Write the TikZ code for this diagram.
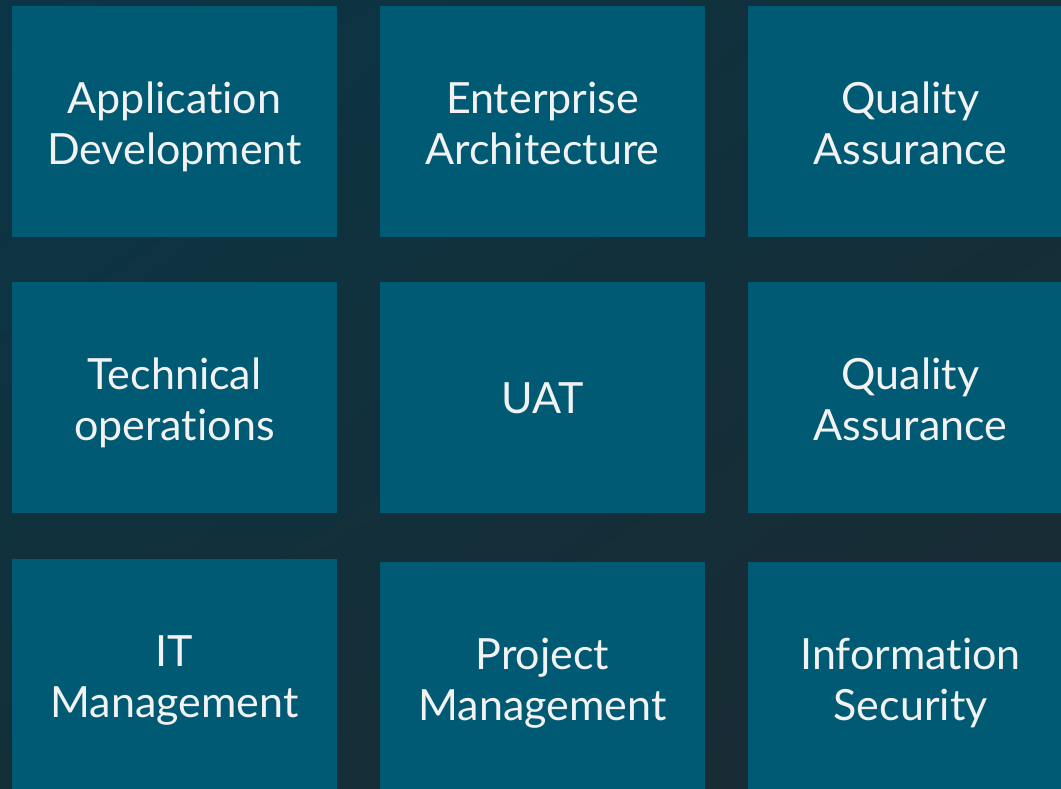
\documentclass[tikz,border=0pt]{standalone}
\usepackage{fontspec}
\setmainfont{Lato}[Ligatures=CommonOff]
\usepackage{xcolor}
\usepackage{tikz}
\usetikzlibrary{shadings}

\definecolor{tilecol}{HTML}{005A73}
\definecolor{textcol}{HTML}{F2F2F2}
\definecolor{bgul}{HTML}{0B3546}
\definecolor{bgur}{HTML}{123039}
\definecolor{bgll}{HTML}{133039}
\definecolor{bglr}{HTML}{1A2A33}

\begin{document}
\begin{tikzpicture}[x=1pt,y=1pt,
                    tile/.style={rectangle,fill=tilecol,text=textcol,inner sep=0pt,
                                 minimum width=325pt,minimum height=231pt,align=center,
                                 font=\fontsize{43}{51}\selectfont,
                                 text height=94pt,text depth=8pt}]

  \clip (0,0) rectangle (1061,789);
  \shade[upper left=bgul,upper right=bgur,lower left=bgll,lower right=bglr]
    (0,0) rectangle (1061,789);

  % top row
  \node[tile] (1) at (174.5,667.5) {Application\\Development};
  \node[tile] (2) at (542.5,667.5) {Enterprise\\Architecture};
  \node[tile] (3) at (910.5,667.5) {Quality\\Assurance};

  % middle row
  \node[tile] (4) at (174.5,391) {Technical\\operations};
  \node[tile,text height=39pt] (5) at (542.5,391) {UAT};
  \node[tile] (6) at (910.5,391) {Quality\\Assurance};

  % bottom row
  \node[tile] (7) at (174.5,114.5) {IT\\Management};
  \node[tile] (8) at (542.5,111.5) {Project\\Management};
  \node[tile] (9) at (910.5,111.5) {Information\\Security};
\end{tikzpicture}
\end{document}
